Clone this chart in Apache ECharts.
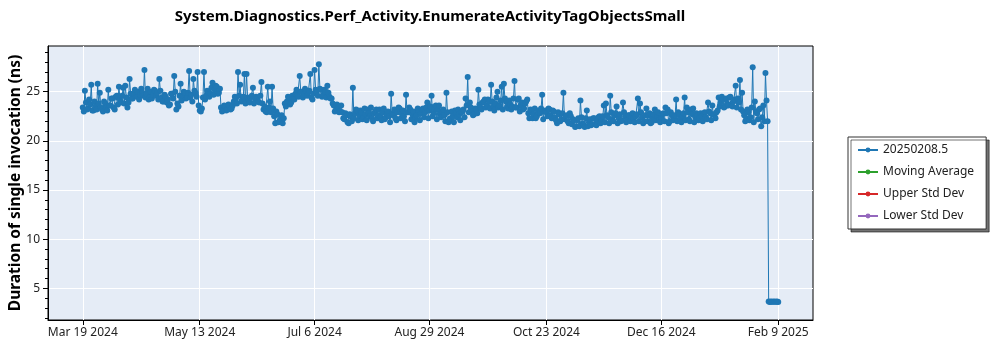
<!DOCTYPE html>
<html>
<head>
<meta charset="utf-8">
<script src="https://cdn.jsdelivr.net/npm/echarts@6/dist/echarts.min.js"></script>
<style>
  html, body { margin: 0; padding: 0; background: #ffffff; }
  #chart { width: 1000px; height: 350px; }
</style>
</head>
<body>
<div id="chart"></div>
<script>
// Benchmark history: two runs per day (morning / evening build), starting at firstRunDate.
const chartTitle = 'System.Diagnostics.Perf_Activity.EnumerateActivityTagObjectsSmall';
const yAxisTitle = 'Duration of single invocation (ns)';
const seriesNames = ['20250208.5', 'Moving Average', 'Upper Std Dev', 'Lower Std Dev'];
const seriesColors = ['#1f77b4', '#2ca02c', '#d62728', '#9467bd'];

const firstRunDate = '2024-03-19';

// Duration in ns, morning run of each day
const morningRuns = [
  23.4, 25.1, 23.2, 24.2, 25.7, 23.1, 23.5, 25.8, 24.9, 23.2,
  24.0, 23.4, 25.2, 23.6, 24.3, 23.2, 24.6, 25.5, 23.9, 25.4,
  25.6, 23.4, 26.3, 24.3, 24.8, 24.6, 25.0, 24.7, 24.9, 27.2,
  24.8, 24.2, 25.0, 24.7, 25.1, 24.9, 26.3, 24.4, 24.0, 24.5,
  24.2, 23.7, 24.8, 26.6, 23.2, 23.5, 25.8, 24.6, 24.9, 24.4,
  27.1, 24.7, 26.3, 24.9, 27.0, 23.1, 23.3, 27.0, 24.6, 25.0,
  24.8, 25.9, 25.2, 25.5, 24.9, 23.4, 23.1, 23.5, 23.2, 23.6,
  23.3, 24.0, 24.3, 27.0, 25.7, 24.1, 26.8, 26.8, 24.2, 24.4,
  25.4, 24.0, 24.3, 23.9, 26.0, 23.2, 23.0, 25.5, 24.0, 25.5,
  22.5, 23.0, 21.9, 22.2, 21.8, 23.8, 24.0, 24.4, 23.9, 24.3,
  24.8, 24.6, 26.6, 25.0, 24.7, 25.1, 24.9, 26.8, 24.2, 27.2,
  25.0, 27.8, 25.2, 24.7, 25.0, 25.6, 24.5, 24.3, 23.6, 23.1,
  23.4, 23.0, 22.9, 22.2, 22.6, 21.8, 22.5, 25.4, 22.8, 23.1,
  22.6, 22.9, 22.4, 22.7, 23.2, 22.5, 22.3, 22.8, 23.2, 22.6,
  22.4, 22.9, 22.2, 22.7, 22.5, 24.8, 22.6, 22.3, 22.9, 23.3,
  22.8, 22.5, 24.7, 22.9, 23.2, 22.7, 21.9, 22.6, 23.0, 22.8,
  23.3, 22.9, 23.9, 23.1, 24.6, 22.8, 23.6, 23.2, 22.7, 23.0,
  22.6, 24.9, 21.9, 22.3, 22.5, 23.1, 22.4, 22.7, 22.9, 23.2,
  24.3, 26.5, 23.9, 23.0, 22.7, 23.2, 25.2, 23.4, 23.9, 24.2,
  23.6, 24.0, 25.7, 23.5, 23.8, 25.0, 23.6, 25.5, 25.8, 24.0,
  23.3, 23.7, 23.5, 26.1, 23.4, 24.3, 23.6, 23.2, 23.8, 24.2,
  22.3, 23.0, 22.7, 22.3, 23.1, 22.8, 24.7, 23.0, 22.9, 23.3,
  22.6, 23.1, 22.4, 21.8, 22.7, 22.2, 24.9, 22.5, 22.0, 22.8,
  21.7, 22.1, 21.5, 22.3, 24.1, 21.8, 21.4, 23.1, 21.9, 21.6,
  22.3, 21.7, 22.1, 22.5, 22.0, 23.6, 23.8, 22.4, 24.6, 22.2,
  22.6, 23.5, 22.3, 22.0, 23.9, 22.5, 22.2, 22.6, 22.4, 22.3,
  22.5, 24.3, 23.8, 22.4, 22.0, 23.3, 22.6, 21.8, 22.3, 23.2,
  22.5, 22.1, 22.4, 22.8, 23.4, 23.2, 22.0, 22.6, 22.3, 24.2,
  22.9, 22.2, 22.5, 24.4, 23.4, 22.2, 23.2, 23.3, 22.4, 22.6,
  22.3, 22.5, 22.8, 22.4, 23.9, 22.8, 23.6, 22.6, 22.9, 24.4,
  23.9, 24.2, 23.5, 23.8, 24.4, 23.7, 24.0, 25.6, 24.3, 26.2,
  24.9, 22.6, 22.3, 22.9, 22.4, 27.5, 24.0, 22.8, 23.2, 21.5,
  23.6, 26.9, 22.0, 3.62, 3.63, 3.65, 3.64, 3.62
];

// Duration in ns, evening run of each day (none yet on the last day)
const eveningRuns = [
  23.0, 23.9, 23.3, 23.7, 23.1, 24.0, 23.2, 23.8, 23.4, 23.0,
  23.8, 23.1, 23.6, 24.3, 23.4, 24.5, 23.7, 24.2, 24.6, 23.8,
  24.4, 23.9, 24.8, 24.3, 25.2, 24.5, 24.2, 25.3, 24.6, 24.4,
  25.3, 24.5, 24.3, 25.2, 24.6, 24.2, 25.1, 24.0, 24.7, 23.9,
  23.6, 24.8, 24.3, 25.0, 23.8, 24.6, 24.1, 25.0, 24.3, 24.9,
  24.4, 24.0, 25.1, 24.5, 23.6, 23.0, 24.4, 24.2, 25.1, 24.5,
  25.4, 24.7, 25.6, 24.8, 25.3, 23.0, 23.6, 23.1, 23.7, 23.2,
  23.6, 24.5, 23.8, 24.6, 24.0, 24.5, 23.8, 24.4, 23.9, 24.6,
  23.8, 24.5, 24.0, 24.6, 23.8, 23.5, 22.9, 23.4, 22.9, 23.3,
  21.8, 22.7, 22.0, 22.6, 22.3, 23.5, 24.5, 23.7, 24.6, 24.2,
  25.2, 24.5, 25.0, 24.4, 25.3, 24.6, 25.1, 24.4, 24.8, 25.2,
  24.6, 25.3, 24.5, 25.2, 24.4, 24.9, 24.3, 23.8, 23.0, 23.7,
  22.9, 23.6, 22.3, 22.8, 21.9, 22.7, 22.0, 22.3, 23.2, 22.1,
  23.1, 22.2, 23.3, 22.1, 22.8, 23.4, 22.0, 23.0, 22.3, 23.2,
  22.1, 23.3, 22.4, 23.0, 21.9, 22.8, 23.2, 22.1, 23.4, 22.3,
  23.1, 22.0, 22.9, 23.4, 22.2, 23.0, 22.4, 23.3, 22.1, 23.2,
  22.4, 23.4, 22.3, 23.5, 22.5, 23.3, 22.2, 23.6, 22.4, 23.2,
  22.0, 22.9, 22.2, 23.0, 21.9, 22.8, 23.2, 22.1, 23.0, 22.4,
  23.6, 22.9, 23.4, 22.6, 23.3, 22.8, 23.7, 23.2, 24.0, 23.4,
  24.2, 23.3, 24.0, 23.1, 24.4, 23.4, 24.1, 23.2, 24.3, 23.5,
  24.1, 23.2, 24.3, 23.4, 24.2, 23.0, 23.9, 23.3, 24.0, 22.8,
  23.2, 22.3, 23.3, 22.5, 22.9, 23.3, 22.2, 23.1, 22.5, 23.2,
  22.3, 23.0, 22.1, 22.9, 22.0, 22.8, 22.2, 22.6, 21.8, 22.5,
  22.2, 21.4, 22.1, 21.5, 22.4, 21.6, 22.3, 21.5, 22.2, 21.7,
  22.3, 21.6, 22.4, 21.8, 22.5, 21.9, 22.6, 21.8, 22.9, 22.0,
  22.8, 21.8, 22.7, 22.1, 22.9, 21.9, 22.6, 22.0, 22.8, 21.9,
  22.7, 22.0, 22.9, 21.8, 22.6, 22.0, 22.8, 21.9, 22.7, 22.1,
  22.9, 21.9, 22.7, 22.0, 22.8, 21.8, 22.9, 22.1, 22.6, 22.0,
  22.7, 21.9, 22.8, 22.1, 22.9, 22.0, 22.7, 21.9, 22.8, 22.1,
  22.8, 22.0, 22.9, 22.2, 23.0, 22.1, 22.7, 22.3, 23.1, 23.5,
  24.5, 23.4, 24.3, 23.6, 24.5, 23.5, 24.2, 23.4, 23.9, 23.2,
  23.0, 22.0, 23.2, 22.1, 23.4, 21.9, 23.0, 22.2, 23.3, 22.4,
  22.0, 24.1, 3.65, 3.66, 3.64, 3.63, 3.66
];

// Statistics series (no points in this run)
const movingAverage = [];
const upperStdDev = [];
const lowerStdDev = [];

// Axis ticks
const xTickDates = ['2024-03-19', '2024-05-13', '2024-07-06', '2024-08-29', '2024-10-23', '2024-12-16', '2025-02-09'];
const yMajorTicks = [5, 10, 15, 20, 25];
const yMinorTicks = [2, 3, 4, 6, 7, 8, 9, 11, 12, 13, 14, 16, 17, 18, 19, 21, 22, 23, 24, 26, 27, 28, 29];
const yRange = [1.78, 29.65];

const DAY = 86400000;
const MONTHS = ['Jan', 'Feb', 'Mar', 'Apr', 'May', 'Jun', 'Jul', 'Aug', 'Sep', 'Oct', 'Nov', 'Dec'];
const t0 = Date.parse(firstRunDate + 'T00:00:00Z');

// Runs in time order: morning then evening for each day
const runPoints = [];
morningRuns.forEach((v, i) => {
  runPoints.push([t0 + i * DAY, v]);
  if (i < eveningRuns.length) runPoints.push([t0 + i * DAY + DAY / 2, eveningRuns[i]]);
});
const tLast = runPoints[runPoints.length - 1][0];
const xPad = (tLast - t0) * 0.05;
const xTicks = xTickDates.map(d => Date.parse(d + 'T00:00:00Z'));

function formatDate(ms) {
  const d = new Date(Math.round(ms / DAY) * DAY);
  return MONTHS[d.getUTCMonth()] + ' ' + d.getUTCDate() + ' ' + d.getUTCFullYear();
}

const FONT = '"Noto Sans", "Open Sans", sans-serif';
const chart = echarts.init(document.getElementById('chart'), null, { renderer: 'canvas' });

function lineSeries(name, color, data) {
  return {
    name: name,
    type: 'line',
    data: data,
    color: color,
    symbol: 'circle',
    symbolSize: 6,
    showSymbol: true,
    showAllSymbol: true,
    lineStyle: { width: 1, color: color },
    itemStyle: { color: color },
    emphasis: { disabled: true },
    z: 3
  };
}

chart.setOption({
  animation: false,
  backgroundColor: '#ffffff',
  title: {
    text: chartTitle,
    left: 430,
    top: 9,
    padding: 0,
    textAlign: 'center',
    textStyle: { fontFamily: FONT, fontSize: 15, fontWeight: 'bold', color: '#000000' }
  },
  grid: {
    left: 48, right: 187, top: 46, bottom: 30,
    outerBoundsMode: 'none',
    show: true,
    backgroundColor: '#E5ECF6',
    borderColor: '#000000',
    borderWidth: 1
  },
  legend: {
    orient: 'vertical',
    left: 848,
    top: 137,
    padding: [6, 12, 6, 9],
    itemWidth: 20,
    itemHeight: 6,
    itemGap: 8,
    backgroundColor: '#ffffff',
    borderColor: '#333333',
    borderWidth: 1,
    shadowColor: 'rgba(0,0,0,0.55)',
    shadowBlur: 0,
    shadowOffsetX: 3,
    shadowOffsetY: 3,
    selectedMode: false,
    textStyle: { fontFamily: FONT, fontSize: 12, color: '#222222', lineHeight: 14 },
    data: seriesNames
  },
  xAxis: {
    type: 'value',
    min: t0 - xPad,
    max: tLast + xPad,
    axisLine: { show: true, onZero: false, lineStyle: { color: '#000000', width: 1 } },
    axisTick: { show: true, customValues: xTicks, length: 5, lineStyle: { color: '#000000' } },
    axisLabel: {
      customValues: xTicks,
      formatter: formatDate,
      margin: 7,
      fontFamily: FONT, fontSize: 12, color: '#222222'
    },
    splitLine: { show: true, lineStyle: { color: '#ffffff', width: 1 } }
  },
  yAxis: [
    {
      type: 'value',
      min: yRange[0],
      max: yRange[1],
      name: yAxisTitle,
      nameLocation: 'middle',
      nameGap: 24,
      nameMoveOverlap: false,
      nameTextStyle: { fontFamily: FONT, fontSize: 15.5, fontWeight: 'bold', color: '#000000' },
      axisLine: { show: true, onZero: false, lineStyle: { color: '#000000', width: 1 } },
      axisTick: { show: true, customValues: yMajorTicks, length: 5, lineStyle: { color: '#000000' } },
      axisLabel: {
        customValues: yMajorTicks,
        margin: 8,
        fontFamily: FONT, fontSize: 12, color: '#222222'
      },
      splitLine: { show: true, lineStyle: { color: '#ffffff', width: 1 } }
    },
    {
      type: 'value',
      min: yRange[0],
      max: yRange[1],
      position: 'left',
      axisLine: { show: false },
      axisTick: { show: true, customValues: yMinorTicks, length: 3, lineStyle: { color: '#000000' } },
      axisLabel: { show: false },
      splitLine: { show: false }
    }
  ],
  series: [
    lineSeries(seriesNames[0], seriesColors[0], runPoints),
    lineSeries(seriesNames[1], seriesColors[1], movingAverage),
    lineSeries(seriesNames[2], seriesColors[2], upperStdDev),
    lineSeries(seriesNames[3], seriesColors[3], lowerStdDev)
  ]
});
</script>
</body>
</html>
